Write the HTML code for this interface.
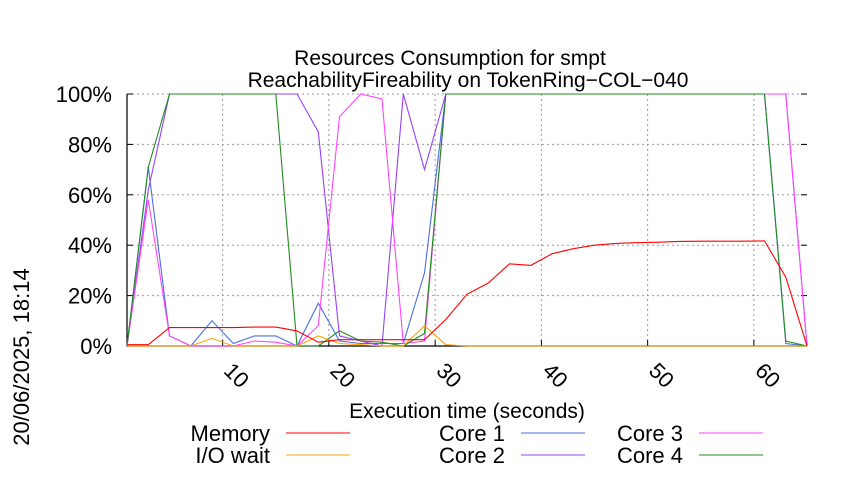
<!DOCTYPE html>
<html><head><meta charset="utf-8"><style>
html,body{margin:0;padding:0;background:#fff;}
svg text{font-family:"Liberation Sans",sans-serif;fill:#000;}
</style></head><body>
<svg id="chart" width="850" height="475" viewBox="0 0 850 475" xmlns="http://www.w3.org/2000/svg">
<g>
<text x="450" y="65" font-size="21" text-anchor="middle">Resources Consumption for smpt</text>
<text x="468" y="87" font-size="21" text-anchor="middle">ReachabilityFireability on TokenRing−COL−040</text>
</g>
<g id="grid"></g>
<g id="axes"></g>
<g id="series"></g>
<text x="467" y="418" font-size="21" text-anchor="middle">Execution time (seconds)</text>
<text transform="translate(29,357) rotate(-90)" font-size="22" text-anchor="middle">20/06/2025, 18:14</text>
<g id="legend"></g>
</svg>
<script>
const times = [1,3,5,7,9,11,13,15,17,19,21,23,25,27,29,31,33,35,37,39,41,43,45,47,49,51,53,55,57,59,61,63,65];
const memory = [0.5,0.5,7.3,7.3,7.3,7.3,7.5,7.5,6,1.5,2.5,2.5,2.5,2.5,2.5,10.5,20.5,25,32.6,32,36.6,38.6,40,40.7,41,41.2,41.5,41.6,41.6,41.6,41.7,27.3,0];
const ioWait = [0,0,0,0,3,0,0,0,0,4,1,0.5,0,0,8,0.5,0,0,0,0,0,0,0,0,0,0,0,0,0,0,0,0,0];
const core1 = [0,71,4,0,10,1,4,4,0,17,2,1,1,1,29,100,100,100,100,100,100,100,100,100,100,100,100,100,100,100,100,1,0];
const core2 = [0,62,100,100,100,100,100,100,100,85,4,2,0,100,70,100,100,100,100,100,100,100,100,100,100,100,100,100,100,100,100,100,0];
const core3 = [0,58,4,0,0,0,2,1.5,0,8,91,100,98,1,2,100,100,100,100,100,100,100,100,100,100,100,100,100,100,100,100,100,0];
const core4 = [0,71,100,100,100,100,100,100,0,0,6,2,1.5,0,5,100,100,100,100,100,100,100,100,100,100,100,100,100,100,100,100,2,0];
const yTicks = [0,20,40,60,80,100];
const yTickLabels = ["0%","20%","40%","60%","80%","100%"];
const xTicks = [10,20,30,40,50,60];
const xTickLabels = ["10","20","30","40","50","60"];
const seriesNames = ["Memory","I/O wait","Core 1","Core 2","Core 3","Core 4"];

const NS="http://www.w3.org/2000/svg";
const L=127,R=807,T=94,B=346,xMin=1,xMax=65;
function xs(v){return L+(v-xMin)/(xMax-xMin)*(R-L);}
function ys(v){return B-v/100*(B-T);}
function mk(tag,attrs,parent){const e=document.createElementNS(NS,tag);for(const k in attrs)e.setAttribute(k,attrs[k]);parent.appendChild(e);return e;}
const grid=document.getElementById('grid'),axes=document.getElementById('axes'),ser=document.getElementById('series'),leg=document.getElementById('legend');
yTicks.forEach((v,i)=>{
  const y=ys(v);
  if(v>0){const g=mk('line',{x1:L,x2:R,y1:y,y2:y,stroke:'#999','stroke-dasharray':'2,3','stroke-width':1},grid);
  
  }
  const t1=mk('line',{x1:L,x2:L+6,y1:y,y2:y,stroke:'#000'},axes);
  
  
  const t2=mk('line',{x1:R-6,x2:R,y1:y,y2:y,stroke:'#000'},axes);
  
  
  const tx=mk('text',{x:112,y:y+8,'font-size':22,'text-anchor':'end'},axes);
  tx.textContent=yTickLabels[i];
  
  
});
xTicks.forEach((v,i)=>{
  const x=xs(v);
  const g=mk('line',{x1:x,x2:x,y1:T,y2:B,stroke:'#999','stroke-dasharray':'2,3','stroke-width':1},grid);
  
  
  const t=mk('line',{x1:x,x2:x,y1:B,y2:B-6,stroke:'#000'},axes);
  
  
  const tx=mk('text',{transform:`translate(${x},${B+26}) rotate(45)`,'font-size':22},axes);
  tx.textContent=xTickLabels[i];
  
  
});
const fr=mk('path',{d:`M${L},${T}V${B}H${R}`,fill:'none',stroke:'#000','stroke-width':1.2},axes);


const defs=[[memory,'#ff0000','memory-line'],[ioWait,'#ffa500','io-wait-line'],[core1,'#4a6ee0','core-1-line'],[core2,'#9a3ff5','core-2-line'],[core3,'#ff44ff','core-3-line'],[core4,'#228b22','core-4-line']];
[2,3,4,5,1,0].forEach(i=>{
  const [d,c,n]=defs[i];
  const p=mk('polyline',{points:d.map((v,j)=>xs(times[j]).toFixed(1)+','+ys(v).toFixed(1)).join(' '),fill:'none',stroke:c,'stroke-width':1.1},ser);
  
  
});
const legPos=[[270,433],[270,455],[505,433],[505,455],[683,433],[683,455]];
seriesNames.forEach((nm,i)=>{
  const [x,y]=legPos[i];
  const tx=mk('text',{x:x,y:y+8,'font-size':22,'text-anchor':'end'},leg);
  tx.textContent=nm;
  
  
  const ln=mk('line',{x1:x+16,x2:x+80,y1:y,y2:y,stroke:defs[i][1],'stroke-width':1.1},leg);
  
  
});
</script>
</body></html>
